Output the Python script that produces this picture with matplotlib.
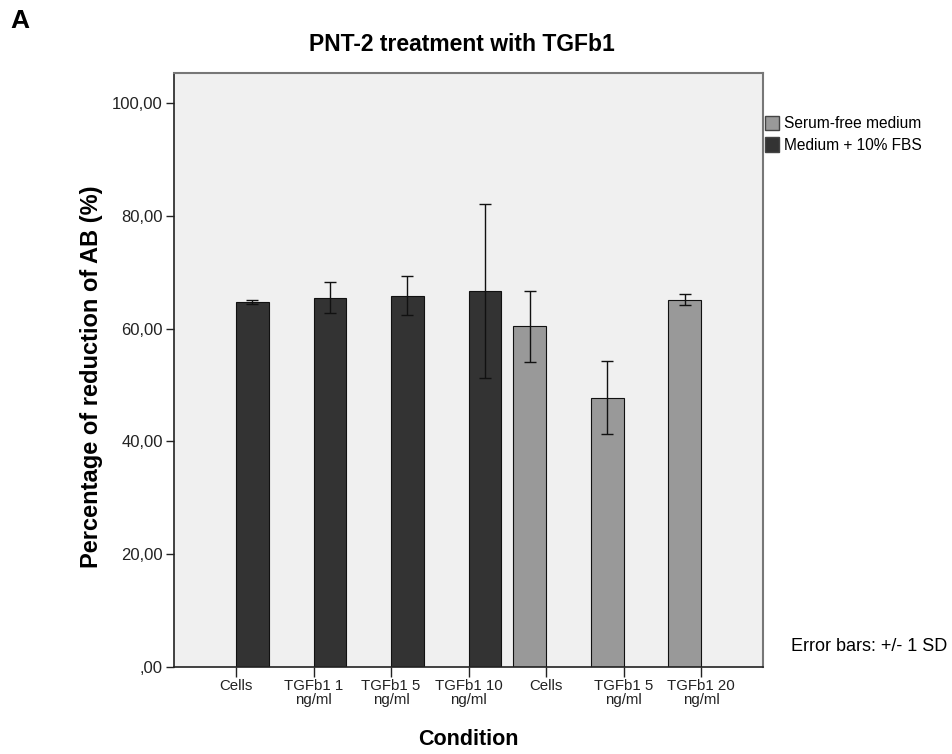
"""
Recreate the PNT-2 TGFb1 treatment bar chart.
"""

import matplotlib
matplotlib.use("Agg")
import matplotlib.pyplot as plt
from matplotlib.patches import Patch
from matplotlib.ticker import FuncFormatter

categories = [
    "Cells",
    "TGFb1 1\nng/ml",
    "TGFb1 5\nng/ml",
    "TGFb1 10\nng/ml",
    "Cells",
    "TGFb1 5\nng/ml",
    "TGFb1 20\nng/ml",
]

# group of each category: 1 = Medium + 10% FBS, 0 = Serum-free medium
groups = [1, 1, 1, 1, 0, 0, 0]
means = [64.7, 65.5, 65.8, 66.7, 60.4, 47.75, 65.1]
sds = [0.3, 2.75, 3.45, 15.4, 6.3, 6.5, 0.95]

group_names = ["Serum-free medium", "Medium + 10% FBS"]
group_colors = ["#999999", "#333333"]
yticks = [0, 20, 40, 60, 80, 100]


def fmt(v, pos):
    s = f"{v:.2f}".replace(".", ",")
    if s.startswith("0,"):
        s = s[1:]
    return s


def main():
    plt.rcParams["font.family"] = ["Liberation Sans", "DejaVu Sans"]

    fig = plt.figure(figsize=(9.52, 7.54), dpi=100)
    ax = fig.add_axes([0.1828, 0.1158, 0.6187, 0.7878])
    ax.set_facecolor("#f0f0f0")

    width = 0.42
    for i, (g, m, sd) in enumerate(zip(groups, means, sds)):
        # SPSS cluster slots: serum-free left of the tick, FBS right of it
        x = i + width / 2 if g == 1 else i - width / 2
        ax.bar(x, m, width=width, color=group_colors[g],
               edgecolor="#111111", linewidth=0.8, zorder=2)
        ax.errorbar(x, m, yerr=sd, fmt="none", ecolor="#111111",
                    elinewidth=1.0, capsize=4, capthick=1.0, zorder=3)

    ax.set_xlim(-0.8, 6.8)
    ax.set_ylim(0, 105.4)
    ax.set_xticks(range(len(categories)))
    ax.set_xticklabels(categories, fontsize=10.8, linespacing=1.0)
    ax.set_yticks(yticks)
    ax.yaxis.set_major_formatter(FuncFormatter(fmt))
    ax.tick_params(axis="y", labelsize=12, length=6, width=1, pad=2,
                   colors="#222222")
    ax.tick_params(axis="x", length=7, width=1, pad=2, colors="#222222")

    for side in ["left", "bottom"]:
        ax.spines[side].set_color("#222222")
        ax.spines[side].set_linewidth(1.2)
    for side in ["top", "right"]:
        ax.spines[side].set_color("#777777")
        ax.spines[side].set_linewidth(1.5)

    fig.text(0.0956, 0.5, "Percentage of reduction of AB (%)", rotation=90,
             ha="center", va="center", fontsize=17, fontweight="bold")
    fig.text(0.4925, 0.0186, "Condition", ha="center", va="center",
             fontsize=15.5, fontweight="bold")
    fig.text(0.4856, 0.9416, "PNT-2 treatment with TGFb1", ha="center",
             va="center", fontsize=16.5, fontweight="bold")
    fig.text(0.011, 0.972, "A", ha="left", va="center", fontsize=19,
             fontweight="bold")

    handles = [Patch(facecolor=group_colors[k], edgecolor="#444444",
                     label=group_names[k]) for k in range(2)]
    fig.legend(handles=handles, loc="upper left",
               bbox_to_anchor=(0.797, 0.855), frameon=False, fontsize=11.2,
               handlelength=0.9, handleheight=1.1, handletextpad=0.3,
               labelspacing=0.35, borderaxespad=0)

    fig.text(0.831, 0.142, "Error bars: +/- 1 SD", ha="left", va="center",
             fontsize=13)

    fig.savefig("out.png", dpi=100)
    plt.close(fig)


if __name__ == "__main__":
    main()
